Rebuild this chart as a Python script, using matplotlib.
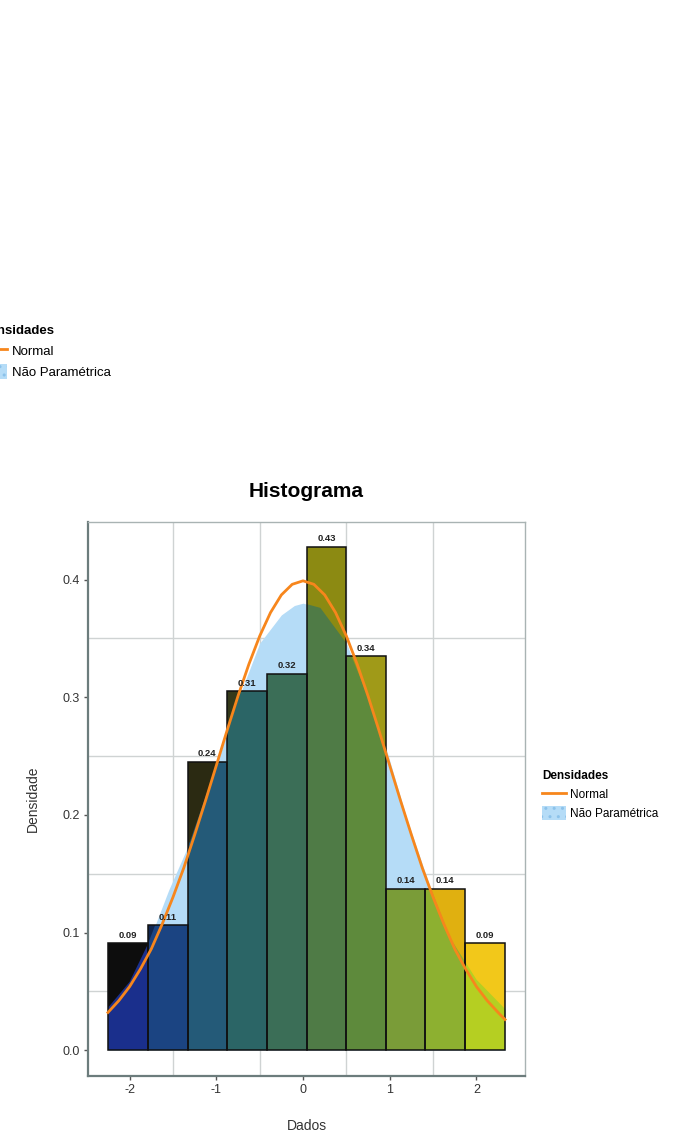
import numpy as np
import matplotlib
matplotlib.use("Agg")
import matplotlib.pyplot as plt
from matplotlib.lines import Line2D
from matplotlib.patches import Patch

plt.rcParams['font.family'] = ['Liberation Sans', 'DejaVu Sans']

# ---- data ----
bin_edges = [-2.25, -1.79, -1.33, -0.88, -0.42, 0.04, 0.50, 0.96, 1.41, 1.87, 2.33]
densities = [0.091, 0.106, 0.245, 0.305, 0.320, 0.428, 0.335, 0.137, 0.137, 0.091]
bar_labels = ["0.09", "0.11", "0.24", "0.31", "0.32", "0.43", "0.34", "0.14", "0.14", "0.09"]

# colour of each bar above / inside the non-parametric density
top_colors = ['#0d0d0d', '#102650', '#2b2a12', '#34391a', '#4a5a2a',
              '#8c8a12', '#a09a18', '#b8a818', '#e0b010', '#f2c81a']
low_colors = ['#1a2f8c', '#1b4482', '#245a78', '#2b6566', '#3b6e57',
              '#4f7b46', '#5e8a3c', '#7a9c38', '#8db030', '#b5cf22']

# normal density curve
normal_x = [-2.25, -2.125, -2.0, -1.875, -1.75, -1.625, -1.5, -1.375, -1.25, -1.125,
            -1.0, -0.875, -0.75, -0.625, -0.5, -0.375, -0.25, -0.125, 0.0,
            0.125, 0.25, 0.375, 0.5, 0.625, 0.75, 0.875, 1.0, 1.125, 1.25,
            1.375, 1.5, 1.625, 1.75, 1.875, 2.0, 2.125, 2.25, 2.33]
normal_y = [0.032, 0.042, 0.054, 0.069, 0.086, 0.107, 0.130, 0.155, 0.183, 0.212,
            0.242, 0.272, 0.301, 0.328, 0.352, 0.372, 0.387, 0.396, 0.399,
            0.396, 0.387, 0.372, 0.352, 0.328, 0.301, 0.272, 0.242, 0.212, 0.183,
            0.155, 0.130, 0.107, 0.086, 0.069, 0.054, 0.042, 0.032, 0.026]

# non-parametric (kernel) density, read off the light blue area
kde_x = [-2.25, -2.0, -1.79, -1.55, -1.3, -1.0, -0.75, -0.5, -0.25, -0.1, 0.0,
         0.2, 0.5, 0.75, 0.96, 1.2, 1.45, 1.7, 2.0, 2.33]
kde_y = [0.036, 0.058, 0.090, 0.136, 0.178, 0.242, 0.298, 0.346, 0.370, 0.378, 0.380,
         0.376, 0.346, 0.300, 0.256, 0.196, 0.142, 0.095, 0.060, 0.035]

y_ticks = [0.0, 0.1, 0.2, 0.3, 0.4]
x_ticks = [-2, -1, 0, 1, 2]

W, H = 680, 1135
fig = plt.figure(figsize=(W / 100, H / 100), dpi=100)
ax = fig.add_axes([88 / W, 1 - 1076 / H, (525 - 88) / W, (1076 - 522) / H])
ax.set_xlim(-2.48, 2.56)
ax.set_ylim(-0.022, 0.449)

# grid at the minor positions only
for gx in [-1.5, -0.5, 0.5, 1.5]:
    ax.axvline(gx, color='#cfd3d3', lw=1.0, zorder=0)
for gy in [0.05, 0.15, 0.25, 0.35]:
    ax.axhline(gy, color='#cfd3d3', lw=1.0, zorder=0)

lefts = bin_edges[:-1]
widths = np.diff(bin_edges)

# bars, upper colour
ax.bar(lefts, densities, width=widths, align='edge', color=top_colors,
       edgecolor='none', zorder=2)

# kernel density area
kde_fill = ax.fill_between(kde_x, kde_y, color='#b5dcf7', lw=0, zorder=1.5)
kde_path = kde_fill.get_paths()[0]

# bars, colour inside density area
inner = ax.bar(lefts, densities, width=widths, align='edge', color=low_colors,
               edgecolor='none', zorder=3)
for p in inner.patches:
    p.set_clip_path(kde_path, ax.transData)

# bar outlines
ax.bar(lefts, densities, width=widths, align='edge', fill=False,
       edgecolor='#101010', lw=1.1, zorder=4)

# labels above bars
for l, w, d, t in zip(lefts, widths, densities, bar_labels):
    ax.text(l + w / 2, d + 0.003, t, ha='center', va='bottom', fontsize=6.8,
            fontweight='bold', color='#222222', zorder=6)

# normal curve
ax.plot(normal_x, normal_y, color='#f7861c', lw=2.0, zorder=5)

# axes styling
ax.set_xticks(x_ticks)
ax.set_xticklabels([str(v) for v in x_ticks])
ax.set_yticks(y_ticks)
ax.set_yticklabels([f"{v:.1f}" for v in y_ticks])
ax.tick_params(axis='both', labelsize=9, colors='#555555', length=3, width=1,
               labelcolor='#333333', pad=3)
for s in ['left', 'bottom']:
    ax.spines[s].set_color('#6c7c7c')
    ax.spines[s].set_linewidth(1.6)
for s in ['top', 'right']:
    ax.spines[s].set_color('#a9b3b3')
    ax.spines[s].set_linewidth(1.0)

ax.set_title("Histograma", fontsize=15, fontweight='bold', pad=18)
ax.set_xlabel("Dados", fontsize=10, color='#333333', labelpad=16)
ax.set_ylabel("Densidade", fontsize=10, color='#333333', labelpad=16)

handles = [Line2D([0], [0], color='#f7861c', lw=2),
           Patch(facecolor='#b5dcf7', edgecolor='#8cc2ea', hatch='..', lw=0)]
names = ["Normal", "Não Paramétrica"]

leg = fig.legend(handles, names, title="Densidades", loc='upper left',
                 bbox_to_anchor=(536 / W, 1 - 764 / H), frameon=False,
                 fontsize=8.5, title_fontsize=8.5, handlelength=2.0,
                 handleheight=1.4, handletextpad=0.35, labelspacing=0.45,
                 borderpad=0)
leg.get_title().set_fontweight('bold')
leg._legend_box.align = "left"

# second copy of the legend, partly cut off at the left edge of the figure
leg2 = fig.legend(handles, names, title="Densidades", loc='upper left',
                  bbox_to_anchor=(-26 / W, 1 - 318 / H), frameon=False,
                  fontsize=9.5, title_fontsize=9.5, handlelength=2.0,
                  handleheight=1.4, handletextpad=0.35, labelspacing=0.45,
                  borderpad=0)
leg2.get_title().set_fontweight('bold')
leg2._legend_box.align = "left"

fig.savefig("out.png", dpi=100)
